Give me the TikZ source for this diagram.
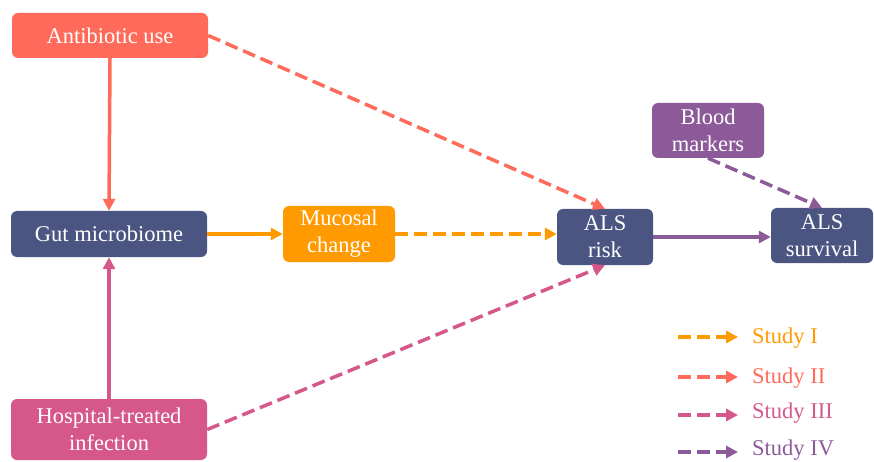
\documentclass[tikz,border=0pt]{standalone}
\usepackage{fontspec}
\setmainfont{Liberation Serif}
\usepackage{tikz}
\usetikzlibrary{arrows.meta}

\definecolor{abred}{HTML}{FF6A5A}
\definecolor{navy}{HTML}{4B5582}
\definecolor{infpink}{HTML}{D6578A}
\definecolor{mucorange}{HTML}{FF9A00}
\definecolor{bloodpurple}{HTML}{8C5A98}

\tikzset{
    box/.style={rounded corners=6pt, text=white, align=center, inner sep=0pt,
        font=\fontsize{22.5}{27}\selectfont},
    link/.style={line width=3.5pt, -{Triangle[length=12pt,width=12pt]}},
    dlink/.style={link, dash pattern=on 13pt off 6pt},
    legtext/.style={anchor=west, inner sep=0pt, font=\fontsize{22.5}{27}\selectfont}
}

\begin{document}
\begin{tikzpicture}[x=1pt,y=1pt]
            \useasboundingbox (0,0) rectangle (874,-462);
            \node[box, fill=abred, minimum width=196pt, minimum height=45pt] (anti) at (110,-35.5) {Antibiotic use};
            \node[box, fill=navy, minimum width=196pt, minimum height=46pt] (gut) at (109,-234) {Gut microbiome};
            \node[box, fill=infpink, minimum width=196pt, minimum height=61pt] (hosp) at (109,-429.5) {Hospital-treated\\infection};
            \node[box, fill=mucorange, minimum width=112pt, minimum height=56pt] (muc) at (339,-234) {Mucosal\\change};
            \node[box, fill=navy, minimum width=96pt, minimum height=56pt] (risk) at (605,-237) {ALS\\risk};
            \node[box, fill=navy, minimum width=102pt, minimum height=55pt] (surv) at (822,-235.5) {ALS\\survival};
            \node[box, fill=bloodpurple, minimum width=112pt, minimum height=55pt] (blood) at (708,-130.5) {Blood\\markers};

            \draw[link, abred] (anti.south) -- (gut.north);
            \draw[link, infpink] (hosp.north) -- (gut.south);
            \draw[link, mucorange] (gut.east) -- (muc.west);
            \draw[dlink, mucorange] (muc.east) -- (muc.east -| risk.west);
            \draw[dlink, abred] (anti.east) -- (risk.north);
            \draw[dlink, infpink] (hosp.east) -- (risk.south);
            \draw[link, bloodpurple] (risk.east) -- (risk.east -| surv.west);
            \draw[dlink, bloodpurple] (blood.south) -- (surv.north);

            \coordinate (s1) at (678,-337);
            \coordinate (s2) at (678,-377);
            \coordinate (s3) at (678,-415);
            \coordinate (s4) at (678,-452);
            \coordinate (e1) at (738,-337);
            \coordinate (e2) at (738,-377);
            \coordinate (e3) at (738,-415);
            \coordinate (e4) at (738,-452);
            \draw[dlink, mucorange] (s1) -- (e1);
            \draw[dlink, abred] (s2) -- (e2);
            \draw[dlink, infpink] (s3) -- (e3);
            \draw[dlink, bloodpurple] (s4) -- (e4);
            \node[legtext, text=mucorange] (st1) at (752,-338) {Study I};
            \node[legtext, text=abred] (st2) at (752,-378) {Study II};
            \node[legtext, text=infpink] (st3) at (752,-413) {Study III};
            \node[legtext, text=bloodpurple] (st4) at (752,-450) {Study IV};
        \end{tikzpicture}
\end{document}
